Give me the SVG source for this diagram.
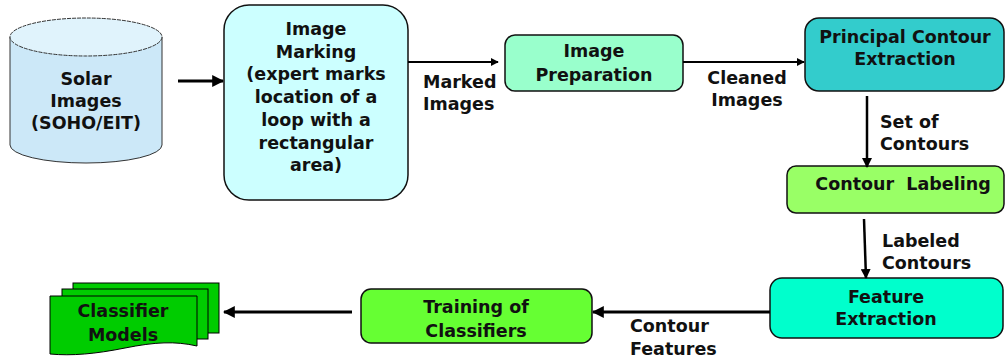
<svg xmlns="http://www.w3.org/2000/svg" width="1006" height="358" viewBox="0 0 1006 358">
  <style>
    .t { font-family: "DejaVu Sans", "Liberation Sans", sans-serif; font-weight: bold; font-size: 17.5px; fill: #111; }
    .c { text-anchor: middle; }
    .box { stroke: #111; stroke-width: 1.5; }
    .ln { stroke: #000; fill: none; }
  </style>
  <defs>
    <marker id="ah" viewBox="0 0 10 10" refX="9" refY="5" markerWidth="4" markerHeight="4" orient="auto" markerUnits="strokeWidth">
      <path d="M0,0 L10,5 L0,10 Z" fill="#000"/>
    </marker>
  </defs>
  <rect width="1006" height="358" fill="#fff"/>

  <g id="solar-images">
    <path d="M10,37 V145 A76,18 0 0 0 162,145 V37" fill="#cce8f8" stroke="#333" stroke-width="1"/>
    <ellipse cx="86" cy="37" rx="76" ry="19" fill="#e0f3fc" stroke="#333" stroke-width="1" stroke-dasharray="4,1"/>
    <text class="t c" x="86" y="85">Solar</text>
    <text class="t c" x="86" y="107">Images</text>
    <text class="t c" x="86" y="129">(SOHO/EIT)</text>
  </g>

  <g id="image-marking">
    <rect class="box" x="224" y="5" width="184" height="195" rx="25" fill="#ccffff"/>
    <text class="t c" x="316" y="35">Image</text>
    <text class="t c" x="316" y="57.7">Marking</text>
    <text class="t c" x="316" y="80.4">(expert marks</text>
    <text class="t c" x="316" y="103">location of a</text>
    <text class="t c" x="316" y="125.8">loop with a</text>
    <text class="t c" x="316" y="148.5">rectangular</text>
    <text class="t c" x="316" y="171.2">area)</text>
  </g>

  <g id="image-preparation">
    <rect class="box" x="505" y="35" width="178" height="56" rx="10" fill="#99ffcc"/>
    <text class="t c" x="594" y="57">Image</text>
    <text class="t c" x="594" y="81">Preparation</text>
  </g>

  <g id="principal-contour-extraction">
    <rect class="box" x="805" y="18" width="199" height="73" rx="14" fill="#33cccc"/>
    <text class="t c" x="905" y="43">Principal Contour</text>
    <text class="t c" x="905" y="65">Extraction</text>
  </g>

  <g id="contour-labeling">
    <rect class="box" x="787" y="166" width="217" height="47" rx="9" fill="#99ff66"/>
    <text class="t c" x="903" y="190" style="white-space:pre" xml:space="preserve">Contour  Labeling</text>
  </g>

  <g id="feature-extraction">
    <rect class="box" x="770" y="278" width="233" height="60" rx="12" fill="#00ffcc"/>
    <text class="t c" x="886" y="303">Feature</text>
    <text class="t c" x="886" y="325">Extraction</text>
  </g>

  <g id="training-of-classifiers">
    <rect class="box" x="361" y="289" width="231" height="54" rx="10" fill="#66ff33"/>
    <text class="t c" x="476" y="313">Training of</text>
    <text class="t c" x="476" y="337">Classifiers</text>
  </g>

  <g id="classifier-models">
    <rect x="73" y="283" width="146" height="50" fill="#00cc00" stroke="#000" stroke-width="1"/>
    <rect x="62" y="289" width="146" height="50" fill="#00cc00" stroke="#000" stroke-width="1"/>
    <path d="M50,296 H197 V346 C175,341 155,342 125,348 C95,354 72,356 50,354 Z" fill="#00cc00" stroke="#000" stroke-width="1"/>
    <text class="t c" x="123" y="317">Classifier</text>
    <text class="t c" x="123" y="341">Models</text>
  </g>

  <g id="connectors">
    <line class="ln" x1="178" y1="81" x2="223" y2="81" stroke-width="3" marker-end="url(#ah)"/>
    <line class="ln" x1="408" y1="62" x2="498" y2="62" stroke-width="2" marker-end="url(#ah)"/>
    <line class="ln" x1="683" y1="62" x2="804" y2="62" stroke-width="2" marker-end="url(#ah)"/>
    <line class="ln" x1="867" y1="96" x2="867" y2="167" stroke-width="2.5" marker-end="url(#ah)"/>
    <line class="ln" x1="864" y1="219" x2="866" y2="278" stroke-width="2.5" marker-end="url(#ah)"/>
    <line class="ln" x1="770" y1="312" x2="593" y2="312" stroke-width="3" marker-end="url(#ah)"/>
    <line class="ln" x1="352" y1="312" x2="224" y2="312" stroke-width="3" marker-end="url(#ah)"/>
    <text class="t" x="423" y="88">Marked</text>
    <text class="t" x="423" y="110">Images</text>
    <text class="t c" x="747" y="84">Cleaned</text>
    <text class="t c" x="747" y="106">Images</text>
    <text class="t" x="880" y="128">Set of</text>
    <text class="t" x="880" y="150">Contours</text>
    <text class="t" x="882" y="247">Labeled</text>
    <text class="t" x="882" y="269">Contours</text>
    <text class="t" x="630" y="332">Contour</text>
    <text class="t" x="630" y="355">Features</text>
  </g>
</svg>
